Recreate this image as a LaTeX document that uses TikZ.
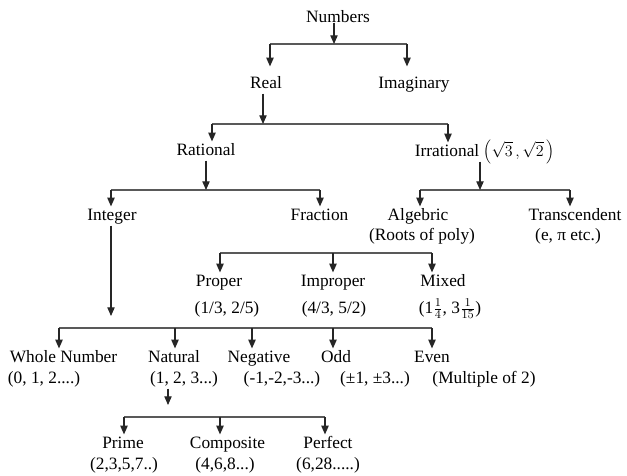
\documentclass[tikz,border=0pt]{standalone}
\usepackage{fontspec}
\setmainfont{Liberation Serif}
\usetikzlibrary{arrows.meta}

\tikzset{
  lbl/.style={anchor=base, inner sep=1pt, text height=9pt, text depth=3pt},
  bar/.style={draw=black!65, line width=0.9pt},
  arr/.style={draw=black!85, line width=0.8pt, -{Triangle[length=6.5pt,width=5.5pt]}},
}

\begin{document}
\begin{tikzpicture}[x=0.75pt,y=-0.75pt,font=\fontsize{13}{15}\selectfont]
	\useasboundingbox (0,0) rectangle (627,475);
	
	% labels, top to bottom
	\node[lbl] (numbers) at (338,22.5) {Numbers};
	\node[lbl] (real) at (266,88) {Real};
	\node[lbl] (imag) at (414,88) {Imaginary};
	
	\node[lbl] (rational) at (206,155) {Rational};
	\node[lbl] (irrational) at (484.5,156) {Irrational $\left(\sqrt{3}\,,\sqrt{2}\,\right)$};
	
	\node[lbl] (integer) at (112,220) {Integer};
	\node[lbl] (fraction) at (319.5,220) {Fraction};
	\node[lbl] (algebric) at (418,220) {Algebric};
	\node[lbl] (algebric-ex) at (422,240) {(Roots of poly)};
	\node[lbl,anchor=base west] (transc) at (527,220) {Transcendent};
	\node[lbl] (transc-ex) at (568,240) {(e, π etc.)};
	
	\node[lbl] (proper) at (219,286) {Proper};
	\node[lbl] (proper-ex) at (227,313) {(1/3, 2/5)};
	\node[lbl] (improper) at (333,286) {Improper};
	\node[lbl] (improper-ex) at (334,313) {(4/3, 5/2)};
	\node[lbl] (mixed) at (443,286) {Mixed};
	\node[lbl] (mixed-ex) at (450,313) {(1$\frac{1}{4}$, 3$\frac{1}{15}$)};
	
	\node[lbl] (whole) at (63.5,362) {Whole Number};
	\node[lbl] (whole-ex) at (44,383) {(0, 1, 2....)};
	\node[lbl] (natural) at (174,362) {Natural};
	\node[lbl] (natural-ex) at (184,383) {(1, 2, 3...)};
	\node[lbl] (negative) at (259,362) {Negative};
	\node[lbl] (negative-ex) at (282,383) {(-1,-2,-3...)};
	\node[lbl] (odd) at (336,362) {Odd};
	\node[lbl] (odd-ex) at (375,383) {(±1, ±3...)};
	\node[lbl] (even) at (432,362) {Even};
	\node[lbl] (even-ex) at (484,383) {(Multiple of 2)};
	
	\node[lbl] (prime) at (123,448) {Prime};
	\node[lbl] (prime-ex) at (124,469) {(2,3,5,7..)};
	\node[lbl] (composite) at (227.5,448) {Composite};
	\node[lbl] (composite-ex) at (225,469) {(4,6,8...)};
	\node[lbl] (perfect) at (328,448) {Perfect};
	\node[lbl] (perfect-ex) at (328,469) {(6,28.....)};
	
	% Numbers -> Real, Imaginary
	\coordinate (b1l) at (270,44);
	\coordinate (b1m) at (334,44);
	\coordinate (b1r) at (407,44);
	\draw[bar] (b1l) -- (b1r);
	\draw[arr] (numbers.base -| b1m) -- (b1m);
	\draw[arr,shorten >=6pt] (b1l) -- (b1l |- real.north);
	\draw[arr,shorten >=6pt] (b1r) -- (b1r |- imag.north);
	
	% Real -> Rational, Irrational
	\coordinate (b2l) at (212,124);
	\coordinate (b2m) at (263,124);
	\coordinate (b2r) at (448,124);
	\draw[bar] (b2l) -- (b2r);
	\draw[arr] (real.south -| b2m) -- (b2m);
	\draw[arr] (b2l) -- (b2l |- rational.north);
	\draw[arr] (b2r) -- (b2r |- irrational.north);
	
	% Rational -> Integer, Fraction
	\coordinate (b3l) at (111,190);
	\coordinate (b3m) at (206,190);
	\coordinate (b3r) at (320,190);
	\draw[bar] (b3l) -- (b3r);
	\draw[arr] (rational.south -| b3m) -- (b3m);
	\draw[arr] (b3l) -- (b3l |- integer.north);
	\draw[arr] (b3r) -- (b3r |- fraction.north);
	
	% Irrational -> Algebric, Transcendent
	\coordinate (b4l) at (420,190);
	\coordinate (b4m) at (480,190);
	\coordinate (b4r) at (570,190);
	\draw[bar] (b4l) -- (b4r);
	\draw[arr] (irrational.south -| b4m) -- (b4m);
	\draw[arr] (b4l) -- (b4l |- algebric.north);
	\draw[arr] (b4r) -- (b4r |- transc.north);
	
	% kinds of fraction
	\coordinate (b5l) at (220,253);
	\coordinate (b5m) at (333,253);
	\coordinate (b5r) at (432,253);
	\draw[bar] (b5l) -- (b5r);
	\draw[arr] (b5l) -- (b5l |- proper.north);
	\draw[arr] (b5m) -- (b5m |- improper.north);
	\draw[arr] (b5r) -- (b5r |- mixed.north);
	
	% Integer -> whole, natural, negative, odd, even
	\coordinate (intend) at (111,316);
	\coordinate (b6l) at (59,328);
	\coordinate (b6a) at (175,328);
	\coordinate (b6b) at (252,328);
	\coordinate (b6c) at (333,328);
	\coordinate (b6r) at (432,328);
	\draw[arr] (integer.south -| intend) -- (intend);
	\draw[bar] (b6l) -- (b6r);
	\draw[arr] (b6l) -- (b6l |- whole.north);
	\draw[arr] (b6a) -- (b6a |- natural.north);
	\draw[arr] (b6b) -- (b6b |- negative.north);
	\draw[arr] (b6c) -- (b6c |- odd.north);
	\draw[arr] (b6r) -- (b6r |- even.north);
	
	% Natural -> Prime, Composite, Perfect
	\coordinate (natend) at (168,405);
	\coordinate (b7l) at (124,417);
	\coordinate (b7m) at (220,417);
	\coordinate (b7r) at (325,417);
	\draw[arr] (natural-ex.south -| natend) -- (natend);
	\draw[bar] (b7l) -- (b7r);
	\draw[arr] (b7l) -- (b7l |- prime.north);
	\draw[arr] (b7m) -- (b7m |- composite.north);
	\draw[arr] (b7r) -- (b7r |- perfect.north);
\end{tikzpicture}
\end{document}
